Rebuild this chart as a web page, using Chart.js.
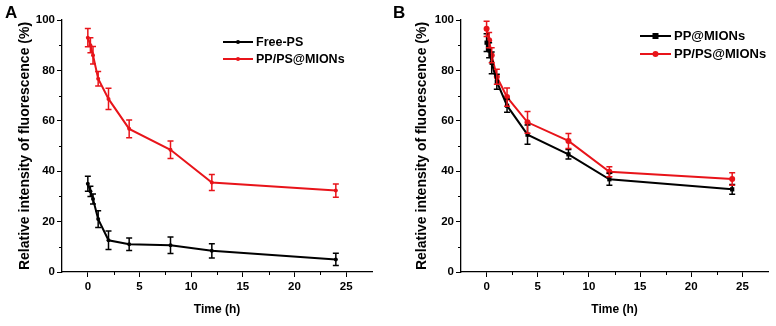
<!DOCTYPE html>
<html>
<head>
<meta charset="utf-8">
<script src="https://cdn.jsdelivr.net/npm/chart.js@4.4.1/dist/chart.umd.min.js"></script>
<style>
  html, body { margin: 0; padding: 0; background: #fff; }
  #wrap { position: relative; width: 776px; height: 326px; overflow: hidden; }
  .panel { position: absolute; top: 0; width: 388px; height: 326px; }
  .tag { position: absolute; top: 3px; font: bold 17px "Liberation Sans", Arial, sans-serif; color: #000; }
</style>
</head>
<body>
<div id="wrap">
  <div class="panel" style="left:0"><canvas id="chartA" width="388" height="326"></canvas></div>
  <div class="panel" style="left:388px"><canvas id="chartB" width="388" height="326"></canvas></div>
  <div class="tag" style="left:5px">A</div>
  <div class="tag" style="left:393px">B</div>
</div>
<script>
// sampling times (h)
const times = [0, 0.25, 0.5, 1, 2, 4, 8, 12, 24]

// panel A
const freePS = [35, 32, 29, 21, 12.6, 11, 10.6, 8.4, 5]
const freePSErr = [3, 2, 2, 3.3, 3.7, 2.5, 3.3, 2.8, 2.4]
const ppPsA = [93, 90, 86, 76.7, 68.7, 56.8, 48.5, 35.5, 32.3]
const ppPsAErr = [3.6, 3, 3.5, 2.9, 4.2, 3.5, 3.5, 3.2, 2.6]

// panel B
const ppMions = [91, 88, 83, 75.5, 66, 54.5, 46.7, 36.8, 32.8]
const ppMionsErr = [3.5, 3, 4.3, 3, 2.6, 3.8, 1.9, 2.4, 1.9]
const ppPsB = [96.5, 92, 86, 77.5, 69.4, 59.4, 52, 39.8, 36.9]
const ppPsBErr = [3, 3, 3, 3, 3.6, 4.3, 3, 2, 2.5]

const xMajor = [0, 5, 10, 15, 20, 25]
const xMinor = [2.5, 7.5, 12.5, 17.5, 22.5]
const yMinor = [10, 30, 50, 70, 90]

const FONT = '"Liberation Sans", Arial, sans-serif'
Chart.defaults.font.family = FONT
Chart.defaults.color = '#000'

// vertical error bars, drawn through the chart's y scale
const errorBars = {
  id: 'errorBars',
  afterDatasetsDraw(chart) {
    const ctx = chart.ctx
    const yScale = chart.scales.y
    chart.data.datasets.forEach((ds, i) => {
      const meta = chart.getDatasetMeta(i)
      ctx.save()
      ctx.strokeStyle = ds.borderColor
      ctx.lineWidth = 1.5
      meta.data.forEach((pt, j) => {
        const v = ds.data[j].y
        const e = ds.errors[j]
        const top = yScale.getPixelForValue(v + e)
        const bot = yScale.getPixelForValue(v - e)
        ctx.beginPath()
        ctx.moveTo(pt.x, top); ctx.lineTo(pt.x, bot)
        ctx.moveTo(pt.x - 3, top); ctx.lineTo(pt.x + 3, top)
        ctx.moveTo(pt.x - 3, bot); ctx.lineTo(pt.x + 3, bot)
        ctx.stroke()
      })
      ctx.restore()
    })
  }
}

// minor tick marks (Origin style, outward)
const minorTicks = {
  id: 'minorTicks',
  afterDraw(chart) {
    const ctx = chart.ctx
    const xs = chart.scales.x, ys = chart.scales.y
    const area = chart.chartArea
    ctx.save()
    ctx.strokeStyle = '#000'
    ctx.lineWidth = 1
    ctx.beginPath()
    xMinor.forEach(v => {
      const px = Math.round(xs.getPixelForValue(v)) + 0.5
      ctx.moveTo(px, area.bottom); ctx.lineTo(px, area.bottom + 3)
    })
    yMinor.forEach(v => {
      const py = Math.round(ys.getPixelForValue(v)) + 0.5
      ctx.moveTo(area.left, py); ctx.lineTo(area.left - 3, py)
    })
    ctx.stroke()
    ctx.restore()
  }
}

// legend inside the plot area
const insideLegend = {
  id: 'insideLegend',
  afterDraw(chart) {
    const o = chart.options.plugins.insideLegend
    const ctx = chart.ctx
    chart.data.datasets.forEach((ds, i) => {
      const y = o.y + i * o.gap
      ctx.save()
      ctx.strokeStyle = ds.borderColor
      ctx.fillStyle = ds.borderColor
      ctx.lineWidth = 2
      ctx.beginPath()
      ctx.moveTo(o.x, y); ctx.lineTo(o.x + o.len, y)
      ctx.stroke()
      const cx = o.x + o.len / 2
      if (ds.pointStyle === 'rect') {
        ctx.fillRect(cx - ds.pointRadius, y - ds.pointRadius, ds.pointRadius * 2, ds.pointRadius * 2)
      } else {
        ctx.beginPath()
        ctx.arc(cx, y, ds.pointRadius, 0, Math.PI * 2)
        ctx.fill()
      }
      ctx.fillStyle = '#000'
      ctx.font = 'bold ' + o.size + 'px ' + FONT
      ctx.textBaseline = 'middle'
      ctx.fillText(ds.label, o.x + o.len + 3, y + 0.5)
      ctx.restore()
    })
  }
}

function series(label, values, errors, color, style, radius) {
  return {
    label: label,
    data: times.map((t, i) => ({ x: t, y: values[i] })),
    errors: errors,
    borderColor: color,
    backgroundColor: color,
    borderWidth: 2,
    pointStyle: style,
    pointRadius: radius,
    pointBorderWidth: 0,
    tension: 0
  }
}

function makeChart(id, datasets, pad, yWidth, legend) {
  return new Chart(document.getElementById(id), {
    type: 'line',
    data: { datasets: datasets },
    options: {
      responsive: false,
      animation: false,
      layout: { padding: pad },
      plugins: { legend: { display: false }, tooltip: { enabled: false }, insideLegend: legend },
      scales: {
        x: {
          type: 'linear',
          min: -2.5,
          max: 27.5,
          afterBuildTicks: s => { s.ticks = xMajor.map(v => ({ value: v })) },
          afterFit: s => { s.height = 326 - pad.bottom - 272 },
          grid: { drawOnChartArea: false, tickLength: 5, color: '#000' },
          border: { color: '#000', width: 1.3 },
          ticks: { font: { size: 11.5, weight: 'bold' }, padding: 2.5, maxRotation: 0 },
          title: { display: true, text: 'Time (h)', font: { size: 12, weight: 'bold' }, padding: 0 }
        },
        y: {
          min: 0,
          max: 100,
          ticks: { stepSize: 20, font: { size: 11.5, weight: 'bold' }, padding: 2 },
          afterFit: s => { s.width = yWidth },
          grid: { drawOnChartArea: false, tickLength: 5, color: '#000' },
          border: { color: '#000', width: 1.3 },
          title: { display: true, text: 'Relative intensity of fluorescence (%)', font: { size: 14, weight: 'bold' }, padding: 0 }
        }
      }
    },
    plugins: [errorBars, minorTicks, insideLegend]
  })
}

makeChart('chartA', [
  series('Free-PS', freePS, freePSErr, '#000000', 'circle', 2),
  series('PP/PS@MIONs', ppPsA, ppPsAErr, '#e8141a', 'circle', 2)
], { left: 16.6, top: 20, right: 16, bottom: 8.8 }, 45.4,
  { x: 223, y: 42, gap: 17, len: 30, size: 12.5 })

makeChart('chartB', [
  series('PP@MIONs', ppMions, ppMionsErr, '#000000', 'rect', 3),
  series('PP/PS@MIONs', ppPsB, ppPsBErr, '#e8141a', 'circle', 3)
], { left: 25.3, top: 20, right: 8, bottom: 8.8 }, 47.7,
  { x: 252, y: 36, gap: 18, len: 31, size: 13 })
</script>
</body>
</html>
